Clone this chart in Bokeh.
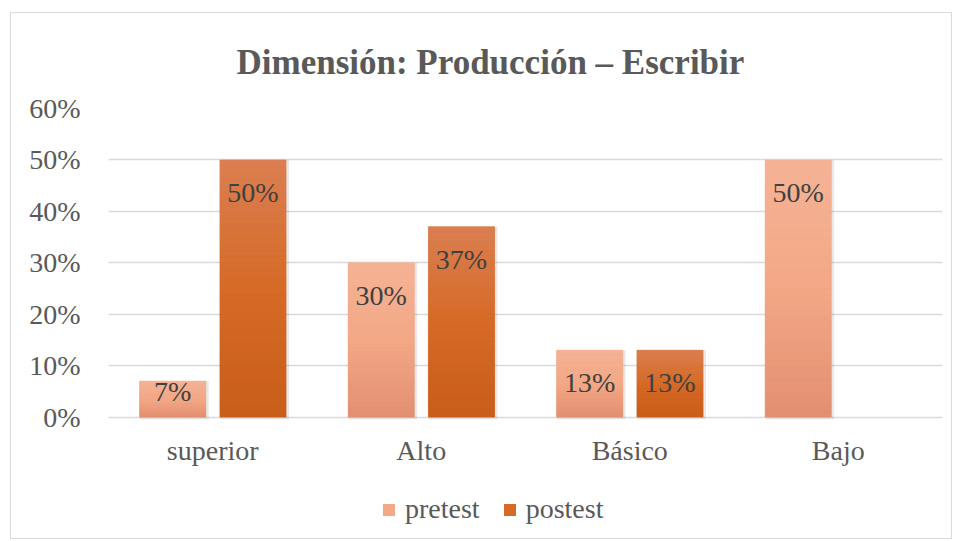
from bokeh.plotting import figure
from bokeh.models import (FactorRange, Range1d, NumeralTickFormatter, Legend, LegendItem,
                          ColumnDataSource, FixedTicker)
from bokeh.transform import dodge
from bokeh.core.properties import value
from bokeh.embed import file_html
from bokeh.resources import INLINE

# ---- data ----
categories = ["superior", "Alto", "Básico", "Bajo"]
series_names = ["pretest", "postest"]
pretest = [0.07, 0.30, 0.13, 0.50]
postest = [0.50, 0.37, 0.13, 0.00]
y_ticks = [0.0, 0.1, 0.2, 0.3, 0.4, 0.5, 0.6]
title_text = "Dimensión: Producción – Escribir"

# ---- styles / layout ----
FONT = "Liberation Serif"
gradients = {
    "pretest": [(245, 179, 150), (243, 168, 134), (226, 143, 112)],
    "postest": [(219, 127, 82), (214, 106, 38), (200, 94, 26)],
}
dodges = {"pretest": -0.192, "postest": 0.193}
BAR_W = 0.317
N = 40
W, H = 940, 525
TOP, LEFT, RIGHT = 95, 97, 9
PLOT_PX = 308.6            # pixel height of the 0..max band
Y_MAX = y_ticks[-1]
Y_MIN = -Y_MAX * (H - TOP - PLOT_PX) / PLOT_PX   # extra room below 0 for labels/legend


def interp(stops, t):
    # t: 0 at top, 1 at bottom
    if t <= 0.5:
        a, b, f = stops[0], stops[1], t / 0.5
    else:
        a, b, f = stops[1], stops[2], (t - 0.5) / 0.5
    c = [round(a[k] + (b[k] - a[k]) * f) for k in range(3)]
    return "#%02x%02x%02x" % tuple(c)


p = figure(width=W, height=H, x_range=FactorRange(*categories, range_padding=0, factor_padding=0),
           y_range=Range1d(Y_MIN, Y_MAX), output_backend="svg", toolbar_location=None,
           min_border_left=LEFT, min_border_right=RIGHT, min_border_top=TOP, min_border_bottom=0)
p.margin = (13, 0, 0, 11)
p.styles = {"outline": "1px solid #d9d9d9"}
p.outline_line_color = None
p.background_fill_color = "white"
p.border_fill_color = "white"

p.title.text = title_text
p.title.text_font = FONT
p.title.text_font_size = "35px"
p.title.text_font_style = "bold"
p.title.text_color = "#595959"
p.title.align = "left"
p.title.offset = 128
p.title.standoff = 54

# grid / axes
p.xgrid.grid_line_color = None
p.xaxis.visible = False
p.ygrid.grid_line_color = "#d9d9d9"
p.ygrid.grid_line_width = 1.3
p.yaxis.ticker = FixedTicker(ticks=y_ticks)
p.yaxis.formatter = NumeralTickFormatter(format="0%")
ax = p.yaxis[0]
ax.axis_line_color = None
ax.major_tick_line_color = None
ax.minor_tick_line_color = None
ax.major_label_text_font = FONT
ax.major_label_text_font_size = "28px"
ax.major_label_text_color = "#595959"
ax.major_label_standoff = 22

# category labels (x axis)
cat_src = ColumnDataSource(dict(cat=categories, y=[0] * len(categories)))
p.text(x="cat", y="y", text="cat", source=cat_src, y_offset=18, text_align="center",
       text_baseline="top", text_font=value(FONT), text_font_size="28px", text_color="#595959")

legend_items = []
for name, vals in zip(series_names, [pretest, postest]):
    stops = gradients[name]
    off = dodges[name]
    # shadow
    sh = ColumnDataSource(dict(cat=categories, top=vals,
                               alpha=[0.18 if v > 0 else 0 for v in vals]))
    p.vbar(x=dodge("cat", off + 0.008, range=p.x_range), top="top", bottom=-0.004, width=BAR_W + 0.012,
           source=sh, fill_color="#808080", fill_alpha="alpha", line_color=None)
    # base bar (legend swatch)
    base = ColumnDataSource(dict(cat=categories, top=vals))
    r = p.vbar(x=dodge("cat", off, range=p.x_range), top="top", bottom=0, width=BAR_W,
               source=base, fill_color=interp(stops, 0.5), line_color=None)
    legend_items.append(LegendItem(label=name, renderers=[r]))
    # gradient slices
    cats, bots, tops, cols = [], [], [], []
    for c, v in zip(categories, vals):
        if v <= 0:
            continue
        for i in range(N):
            cats.append(c)
            bots.append(v * i / N)
            tops.append(v * (i + 1) / N)
            cols.append(interp(stops, 1 - (i + 0.5) / N))
    gs = ColumnDataSource(dict(cat=cats, bottom=bots, top=tops, color=cols))
    p.vbar(x=dodge("cat", off, range=p.x_range), top="top", bottom="bottom", width=BAR_W,
           source=gs, fill_color="color", line_color="color", line_width=0.6)
    # labels
    lc = [c for c, v in zip(categories, vals) if v > 0]
    lv = [v for v in vals if v > 0]
    lt = ["%d%%" % round(v * 100) for v in lv]
    yo = [17 if v >= 0.1 else -5 for v in lv]
    ls = ColumnDataSource(dict(cat=lc, y=lv, text=lt, yoff=yo))
    p.text(x=dodge("cat", off, range=p.x_range), y="y", text="text", source=ls,
           y_offset="yoff", text_align="center", text_baseline="top",
           text_font=value(FONT), text_font_size="28px", text_color="#404040")

legend = Legend(items=legend_items, orientation="horizontal", location=(273, 13),
                glyph_width=15, glyph_height=15, label_standoff=9, spacing=22,
                padding=0, margin=0, border_line_color=None, background_fill_alpha=0,
                label_text_font=FONT, label_text_font_size="28px", label_text_color="#595959")
p.add_layout(legend, "center")

open("out.html", "w").write(file_html(p, INLINE))
